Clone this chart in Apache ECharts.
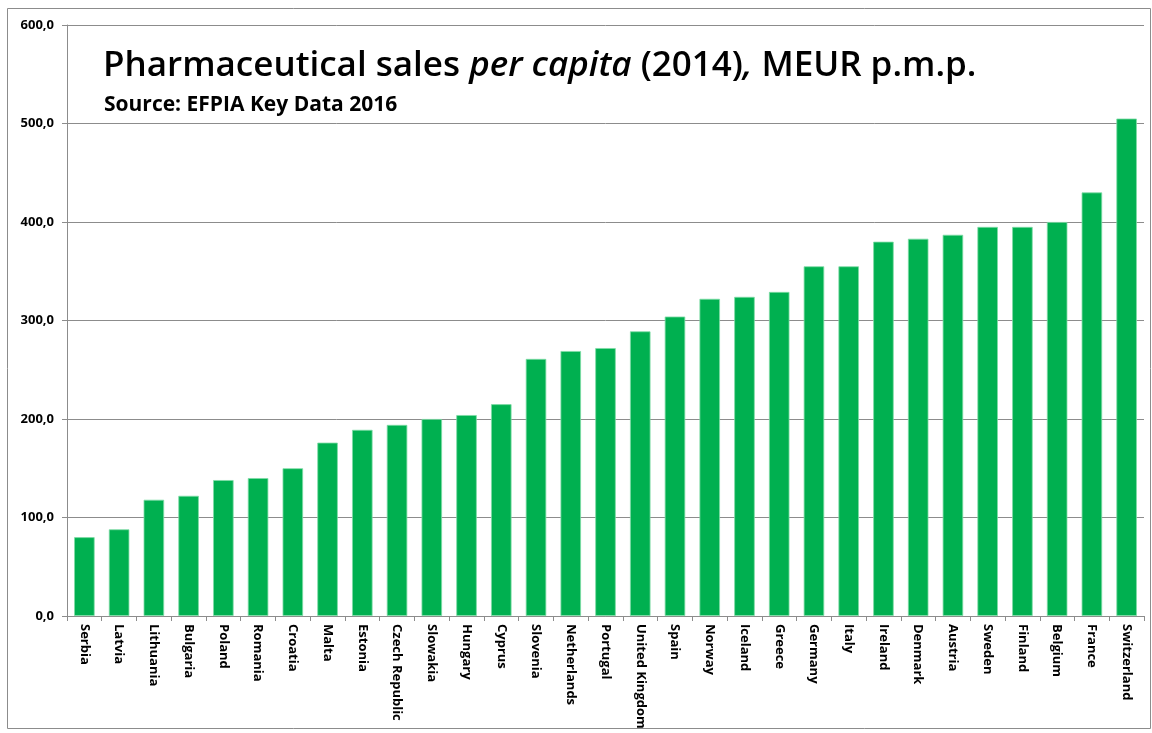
<!DOCTYPE html>
<html><head><meta charset="utf-8">
<script src="https://cdn.jsdelivr.net/npm/echarts@6/dist/echarts.min.js"></script>
<style>html,body{margin:0;padding:0;background:#fff}#c{width:1152px;height:733px}</style>
</head><body><div id="c"></div>
<script>
const categories = ['Serbia','Latvia','Lithuania','Bulgaria','Poland','Romania','Croatia','Malta','Estonia','Czech Republic','Slowakia','Hungary','Cyprus','Slovenia','Netherlands','Portugal','United Kingdom','Spain','Norway','Iceland','Greece','Germany','Italy','Ireland','Denmark','Austria','Sweden','Finland','Belgium','France','Switzerland'];
const sales = [80,88,118,122,138,140,150,176,189,194,200,204,215,261,269,272,289,304,322,324,329,355,355,380,383,387,395,395,400,430,505];
const yTicks = [0,100,200,300,400,500,600];

const chart = echarts.init(document.getElementById('c'));
const FONT = '"Open Sans", "DejaVu Sans", sans-serif';
chart.setOption({
  animation: false,
  backgroundColor: '#fff',
  graphic: [{type:'rect', shape:{x:7.5,y:8.5,width:1143,height:720}, style:{fill:'none', stroke:'#8c8c8c', lineWidth:1}, z:-1}],
  title: [{
    left: 98, top: 44,
    text: '{a|Pharmaceutical sales }{b|per capita}{a| (2014)}{b|,}{a| MEUR p.m.p.}',
    textStyle: {
      rich: {
        a: {fontFamily: FONT, fontSize: 35, fontWeight: 600, color: '#000'},
        b: {fontFamily: FONT, fontSize: 35, fontWeight: 600, fontStyle: 'italic', color: '#000'}
      }
    }
  },{
    left: 99, top: 90,
    text: 'Source: EFPIA Key Data 2016',
    textStyle: {fontFamily: FONT, fontSize: 21, fontWeight: 'bold', color: '#000'}
  }],
  grid: {left: 67, top: 25, right: 8, bottom: 117},
  xAxis: {
    type: 'category', data: categories,
    axisLine: {lineStyle: {color: '#8c8c8c'}},
    axisTick: {show: true, alignWithLabel: false, length: 5, lineStyle: {color: '#8c8c8c'}},
    axisLabel: {rotate: -90, interval: 0, fontFamily: FONT, fontSize: 13, fontWeight: 'bold', color: '#000', margin: 8}
  },
  yAxis: {
    type: 'value', min: 0, max: 600, interval: 100,
    axisLine: {show: true, lineStyle: {color: '#8c8c8c'}},
    axisTick: {show: true, length: 5, lineStyle: {color: '#8c8c8c'}},
    splitLine: {lineStyle: {color: '#8c8c8c', width: 1}},
    axisLabel: {
      fontFamily: FONT, fontSize: 13, fontWeight: 'bold', color: '#000', margin: 13,
      formatter: v => yTicks.includes(v) ? v.toFixed(1).replace('.', ',') : ''
    }
  },
  series: [{
    type: 'bar', data: sales, barWidth: '59%',
    itemStyle: {color: '#00b050', borderColor: '#7fdca6', borderWidth: 0.8}
  }]
});
</script></body></html>
